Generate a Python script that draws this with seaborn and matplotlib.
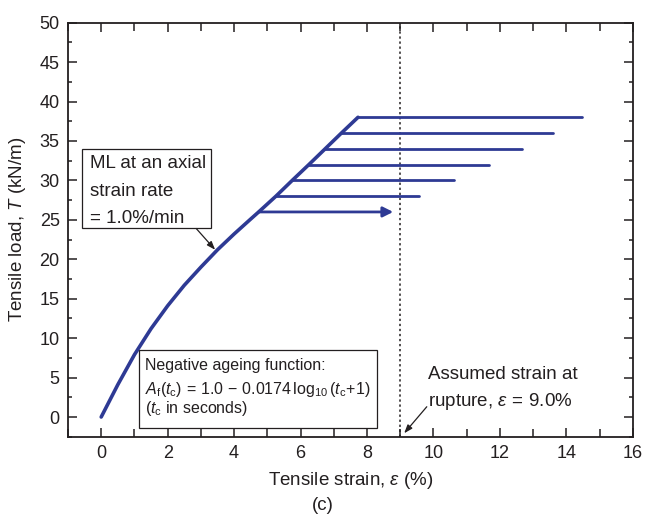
import numpy as np
import pandas as pd
import matplotlib
matplotlib.use("Agg")
import matplotlib.pyplot as plt
import seaborn as sns
from matplotlib.patches import Rectangle
from matplotlib.ticker import MultipleLocator

# DATA
# loading curve (ML at 1.0%/min), strain in %, load in kN/m
curve_strain = [0, 0.5, 1.0, 1.5, 2.0, 2.5, 3.0, 3.5, 4.0, 4.5, 4.74, 5.26, 5.75, 6.25, 6.74, 7.23, 7.73]
curve_load = [0, 4.1, 7.9, 11.2, 14.1, 16.7, 19.0, 21.2, 23.2, 25.1, 26, 28, 30, 32, 34, 36, 38]

# sustained-load (creep) stages
hold_levels = [28, 30, 32, 34, 36, 38]
hold_start = [5.26, 5.75, 6.25, 6.74, 7.23, 7.73]
hold_end = [9.56, 10.62, 11.68, 12.68, 13.60, 14.47]

# the stage that reaches rupture (drawn with an arrow)
arrow_level = 26
arrow_start = 4.74
arrow_end = 8.79

rupture_strain = 9.0

x_ticks = np.arange(0, 17, 2)
y_ticks = np.arange(0, 51, 5)

BLUE = "#2e3a94"
INK = "#231f20"

# CONFIG
sns.set_theme(style="ticks")
plt.rcParams["font.family"] = ["Liberation Sans", "DejaVu Sans"]
plt.rcParams["mathtext.fontset"] = "custom"
plt.rcParams["mathtext.rm"] = "Liberation Sans"
plt.rcParams["mathtext.it"] = "Liberation Sans:italic"
plt.rcParams["mathtext.bf"] = "Liberation Sans:bold"
plt.rcParams["text.color"] = INK

fig = plt.figure(figsize=(6.45, 5.15), dpi=100)
ax = fig.add_axes([0.1054, 0.152, 0.8756, 0.804])

# CURVE
curve_df = pd.DataFrame({"strain": curve_strain, "load": curve_load})
sns.lineplot(data=curve_df, x="strain", y="load", sort=False, estimator=None,
             color=BLUE, lw=2.6, ax=ax, zorder=3)

# CREEP STAGES
rows = []
for lvl, s, e in zip(hold_levels, hold_start, hold_end):
    rows.append({"level": lvl, "strain": s, "load": lvl})
    rows.append({"level": lvl, "strain": e, "load": lvl})
hold_df = pd.DataFrame(rows)
sns.lineplot(data=hold_df, x="strain", y="load", units="level", estimator=None,
             sort=False, color=BLUE, lw=2.0, ax=ax, zorder=3)

ax.annotate("", xy=(arrow_end, arrow_level), xytext=(arrow_start, arrow_level),
            arrowprops=dict(arrowstyle="-|>,head_length=0.6,head_width=0.3",
                            color=BLUE, lw=2.0, shrinkA=0, shrinkB=0,
                            mutation_scale=10), zorder=3)

# RUPTURE LINE
ax.axvline(rupture_strain, color=INK, ls=(0, (1.5, 1.8)), lw=1.1, zorder=2)

# AXES
ax.set_xlim(-1, 16)
ax.set_ylim(-2.5, 50)
ax.set_xticks(x_ticks)
ax.set_yticks(y_ticks)
ax.xaxis.set_minor_locator(MultipleLocator(1))
ax.yaxis.set_minor_locator(MultipleLocator(2.5))
ax.tick_params(which="both", direction="in", top=True, right=True,
               color=INK, labelcolor=INK, labelsize=13, width=1.1)
ax.tick_params(which="major", length=6.5, pad=6)
ax.xaxis.set_tick_params(which="minor", length=6)
ax.yaxis.set_tick_params(which="minor", length=3)
for sp in ax.spines.values():
    sp.set_color(INK)
    sp.set_linewidth(1.3)

ax.set_xlabel(r"Tensile strain, $\varepsilon$ (%)", fontsize=13.5, color=INK, labelpad=6)
ax.set_ylabel(r"Tensile load, $T$ (kN/m)", fontsize=13.5, color=INK, labelpad=8)

# ANNOTATIONS
ax.add_patch(Rectangle((-0.57, 24.0), 3.87, 9.95, facecolor="white",
                       edgecolor=INK, lw=0.9, zorder=4))
ax.text(-0.35, 32.2, "ML at an axial", fontsize=13.5, va="center", zorder=5)
ax.text(-0.35, 28.6, "strain rate", fontsize=13.5, va="center", zorder=5)
ax.text(-0.35, 25.2, "= 1.0%/min", fontsize=13.5, va="center", zorder=5)
ax.annotate("", xy=(3.43, 21.2), xytext=(2.86, 23.9),
            arrowprops=dict(arrowstyle="-|>,head_length=0.5,head_width=0.18",
                            color=INK, lw=0.9, shrinkA=0, shrinkB=0,
                            mutation_scale=10), zorder=5)

ax.add_patch(Rectangle((1.14, -1.34), 7.16, 9.87, facecolor="white",
                       edgecolor=INK, lw=0.9, zorder=4))
ax.text(1.31, 6.55, "Negative ageing function:", fontsize=11.5, va="center", zorder=5)
ax.text(1.31, 3.5,
        r"$A_{\mathrm{f}}(t_{\mathrm{c}})\,=\,1.0\,-\,0.0174\,\log_{10}(t_{\mathrm{c}}\!+\!1)$",
        fontsize=11.5, va="center", zorder=5)
ax.text(1.31, 1.1, r"($t_{\mathrm{c}}$ in seconds)", fontsize=11.5, va="center", zorder=5)

ax.text(9.83, 5.4, "Assumed strain at", fontsize=13.5, va="center")
ax.text(9.83, 1.93, r"rupture, $\varepsilon\,=\,9.0\%$", fontsize=13.5, va="center")
ax.annotate("", xy=(9.12, -2.06), xytext=(9.8, 1.3),
            arrowprops=dict(arrowstyle="-|>,head_length=0.5,head_width=0.18",
                            color=INK, lw=0.9, shrinkA=0, shrinkB=0,
                            mutation_scale=10))

fig.text(0.5, 0.019, "(c)", fontsize=13.5, ha="center", va="center", color=INK)

fig.savefig("out.png", dpi=100)
